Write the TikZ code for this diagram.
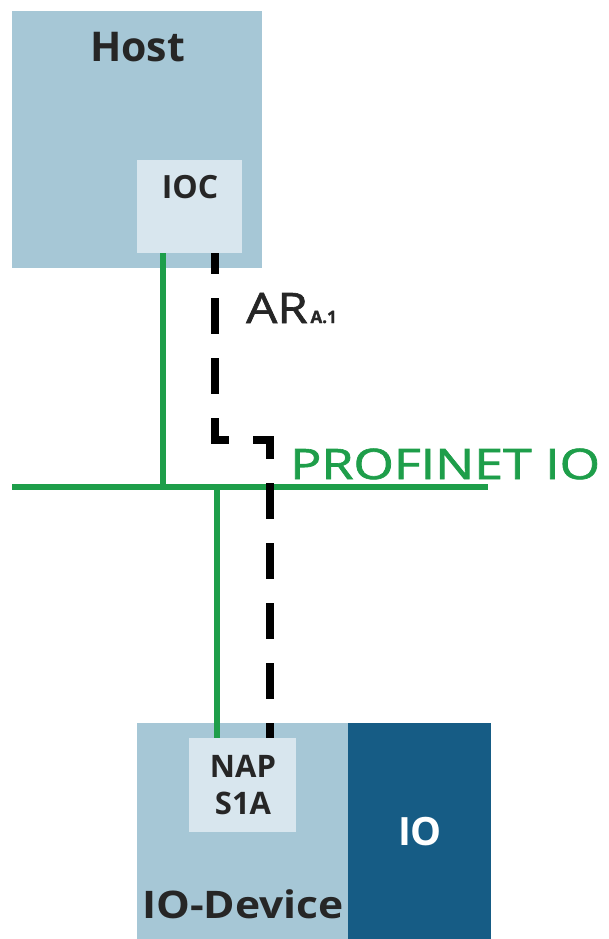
\documentclass[tikz,border=0pt]{standalone}
\usepackage{fontspec}
\setmainfont{Open Sans}
\definecolor{hostblue}{RGB}{166,199,214}
\definecolor{paleblue}{RGB}{216,230,238}
\definecolor{darkblue}{RGB}{22,92,133}
\definecolor{pngreen}{RGB}{30,158,74}
\begin{document}
\begin{tikzpicture}[x=1pt,y=-1pt,
  blockbox/.style={draw=none,fill=hostblue,inner sep=0pt,anchor=north west},
  innerbox/.style={draw=none,fill=paleblue,inner sep=0pt,anchor=north west},
  iobox/.style={draw=none,fill=darkblue,inner sep=0pt,anchor=north west},
  greenline/.style={draw=pngreen,line width=6pt},
  arline/.style={draw=black,line width=7.5pt,dash pattern=on 36pt off 24pt,dash phase=15pt},
  lbl/.style={anchor=base,inner sep=0pt,text=black!85}]
\useasboundingbox (0,0) rectangle (608,939);
% boxes
\node[blockbox,minimum width=250pt,minimum height=257pt] (host) at (12,11) {};
\node[innerbox,minimum width=105pt,minimum height=93pt] (ioc) at (137,160) {};
\node[blockbox,minimum width=211pt,minimum height=216pt] (dev) at (137,723) {};
\node[iobox,minimum width=143pt,minimum height=216pt] (io) at (348,723) {};
\node[innerbox,minimum width=107pt,minimum height=94pt] (nap) at (189,738) {};
% labels
\node[lbl,font=\bfseries\fontsize{41}{41}\selectfont] (hostlbl) at (137.5,62) {Host};
\node[lbl,font=\bfseries\fontsize{32}{32}\selectfont] (ioclbl) at (190,198) {IOC};
\node[lbl,font=\bfseries\fontsize{31}{31}\selectfont] (naplbl) at (243,777) {NAP};
\node[lbl,font=\bfseries\fontsize{31}{31}\selectfont] (s1albl) at (243,814) {S1A};
\node[lbl,text=white,font=\bfseries\fontsize{39}{39}\selectfont] (iolbl) at (420,845) {IO};
\node[lbl,font=\bfseries\fontsize{38}{38}\selectfont] (devlbl) at (243,918) {\scalebox{1.12}[1]{IO-Device}};
\node[lbl,anchor=base west,font=\addfontfeature{FakeBold=1.5}\fontsize{42}{42}\selectfont] (arlbl) at (246,323) {\scalebox{1.17}[1]{AR}\fontsize{17}{17}\selectfont\bfseries\,A.1};
\node[lbl,anchor=base west,text=pngreen,font=\addfontfeature{FakeBold=1.5}\fontsize{42}{42}\selectfont] (pnlbl) at (290,479) {\scalebox{1.235}[1]{PROFINET IO}};
% coordinates
\coordinate (busL) at (12,487);
\coordinate (busR) at (488,487);
\coordinate (g1) at (163,487);
\coordinate (g2) at (217,487);
\coordinate (ar1) at (215,440);
\coordinate (ar2) at (270,440);
% connectors
\draw[greenline] (ioc.south -| g1) -- (g1);
\draw[greenline] (busL) -- (busR);
\draw[greenline] (g2) -- (nap.north -| g2);
\draw[arline] (ioc.south -| ar1) -- (ar1) -- (ar2) -- (nap.north -| ar2);
\end{tikzpicture}
\end{document}
